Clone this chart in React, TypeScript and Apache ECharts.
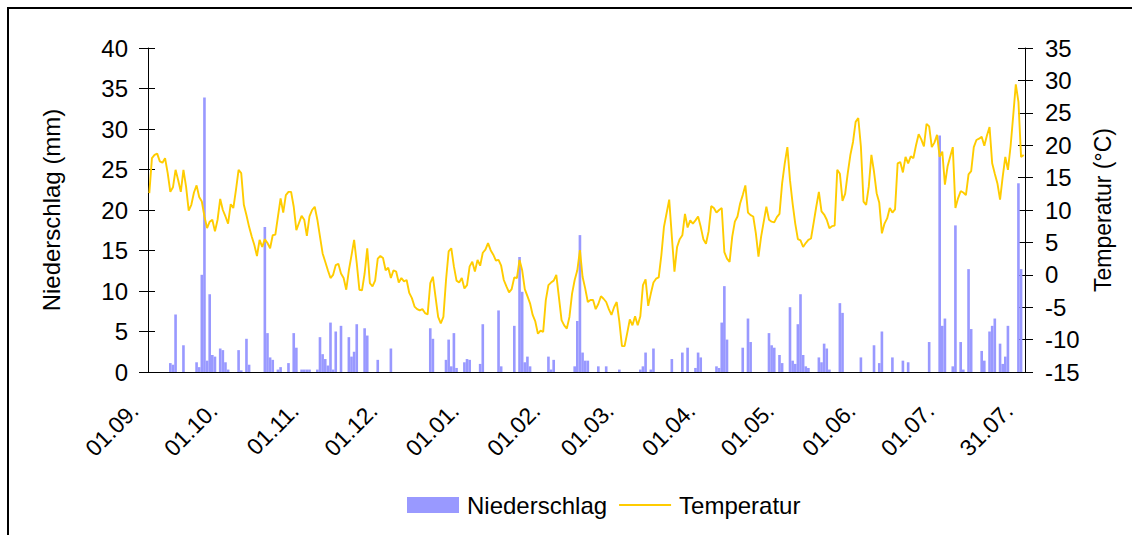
import React, { useEffect, useRef } from "react";
import * as echarts from "echarts";

// Months of the hydrological year shown (Sep .. Jul) and their lengths
const months = ["09", "10", "11", "12", "01", "02", "03", "04", "05", "06", "07"];
const monthDays = [30, 31, 30, 31, 31, 28, 31, 30, 31, 30, 31];

// Tick labels shown on the x axis
const xTickLabels = ["01.09.", "01.10.", "01.11.", "01.12.", "01.01.", "01.02.", "01.03.", "01.04.", "01.05.", "01.06.", "01.07.", "31.07."];

// Daily mean temperature (°C), per month
const tempSep = [12.6, 18.0, 18.5, 18.7, 17.5, 17.3, 18.0, 15.7, 12.8, 13.5, 16.2, 14.6, 12.8, 16.2, 13.6, 9.9, 10.8, 12.7, 13.8, 12.0, 11.3, 9.0, 7.2, 8.2, 8.5, 6.7, 8.5, 11.7, 10.0, 9.0];
const tempOct = [7.9, 10.9, 10.3, 13.1, 16.2, 15.7, 10.8, 9.2, 7.4, 5.9, 4.6, 2.9, 5.4, 4.3, 5.5, 4.9, 4.1, 6.1, 6.2, 9.0, 11.8, 9.6, 12.3, 12.8, 12.8, 10.5, 6.9, 8.0, 9.1, 8.5, 6.0];
const tempNov = [9.0, 10.0, 10.5, 8.5, 5.9, 3.3, 2.0, 0.7, -0.5, 0.0, 1.5, 1.7, 0.2, -0.5, -2.3, 0.7, 3.0, 5.4, 1.8, -2.3, -2.4, 0.2, 4.1, -1.3, -1.8, -0.9, 2.5, 2.9, 2.6, 0.7];
const tempDec = [1.1, -0.5, 0.7, 0.5, -1.2, -0.5, -1.0, -0.8, -2.8, -3.6, -4.9, -5.3, -5.5, -5.3, -5.9, -6.1, -1.3, -0.3, -3.4, -6.5, -7.5, -6.5, -0.8, 3.6, 4.1, 1.3, -0.9, -1.2, -0.5, -2.1, -1.6];
const tempJan = [1.3, 2.0, 0.5, 2.3, 1.4, 3.4, 3.9, 4.9, 3.8, 3.1, 2.2, 2.3, 1.4, -0.8, -1.8, -2.7, -2.2, -0.4, -0.5, 2.3, 0.7, -2.2, -3.3, -4.4, -6.2, -7.2, -9.1, -8.6, -8.8, -3.9, -1.6];
const tempFeb = [-1.2, -0.9, 0.0, -3.5, -7.0, -7.8, -8.3, -6.5, -2.9, -0.8, 0.7, 3.8, -0.3, -2.1, -4.2, -3.9, -3.9, -5.3, -4.5, -3.3, -3.7, -4.2, -5.3, -6.2, -5.0, -4.2, -7.2, -11.0];
const tempMar = [-11.0, -9.0, -6.9, -7.8, -6.4, -7.8, -6.4, -1.6, -0.7, -4.8, -2.9, -1.2, -0.6, -0.4, 3.0, 7.4, 9.5, 11.6, 5.9, 0.5, 4.3, 5.5, 6.1, 9.4, 7.3, 8.4, 7.9, 8.4, 9.0, 7.4, 5.5];
const tempApr = [4.8, 6.7, 10.6, 10.3, 9.6, 10.0, 10.3, 3.5, 2.5, 2.0, 5.9, 8.2, 9.0, 11.0, 12.3, 13.8, 9.6, 9.2, 9.0, 6.4, 2.8, 5.9, 8.2, 10.5, 8.5, 8.2, 8.1, 8.9, 9.4, 14.1];
const tempMay = [17.2, 19.7, 14.6, 11.0, 7.9, 5.5, 5.3, 4.3, 4.9, 5.4, 5.6, 8.0, 10.5, 12.8, 9.8, 9.3, 8.5, 7.2, 7.5, 7.6, 16.2, 15.6, 11.4, 12.5, 15.7, 18.5, 20.5, 23.6, 24.2, 19.8, 11.3];
const tempJun = [10.8, 13.6, 18.5, 15.9, 12.6, 11.1, 6.4, 7.9, 8.7, 10.3, 9.6, 10.1, 17.2, 17.4, 15.8, 18.2, 17.2, 18.3, 18.0, 20.0, 21.7, 20.9, 19.8, 23.3, 22.9, 19.7, 20.4, 21.6, 18.2, 19.0];
const tempJul = [13.9, 16.7, 18.2, 19.7, 10.3, 11.8, 12.9, 12.7, 12.3, 15.5, 16.0, 19.7, 20.8, 21.0, 21.3, 19.9, 21.5, 22.8, 17.2, 15.6, 14.1, 11.6, 15.1, 18.2, 16.2, 19.8, 24.5, 29.4, 26.7, 18.2, 18.5];

// Daily precipitation (mm), per month
const precSep = [0, 0, 0, 0, 0, 0, 0, 0, 1.1, 0.9, 7.1, 0, 0, 3.3, 0, 0, 0, 0, 1.2, 0.6, 12.0, 33.9, 1.4, 9.6, 2.1, 1.9, 0, 2.9, 2.7, 1.2];
const precOct = [0.3, 0, 0, 0, 2.7, 0.2, 0, 4.1, 0.9, 0, 0, 0, 0, 0, 17.9, 4.8, 1.8, 1.5, 0, 0.3, 0.6, 0, 0, 1.1, 0, 4.8, 3.0, 0, 0.3, 0.3, 0.3];
const precNov = [0.3, 0, 0, 0.3, 4.3, 2.2, 1.6, 0.8, 6.1, 0.3, 5.0, 0, 5.7, 0, 0, 4.3, 1.9, 2.5, 5.9, 0, 0, 5.4, 4.5, 0, 0, 0, 1.5, 0, 0, 0];
const precDec = [0, 2.9, 0, 0, 0, 0, 0, 0, 0, 0, 0, 0, 0, 0, 0, 0, 5.4, 4.1, 0, 0, 0, 0, 1.5, 4.0, 0.7, 4.8, 0.5, 0, 0, 1.2, 1.6];
const precJan = [1.5, 0, 0, 0, 1.0, 5.9, 0, 0, 0, 0, 0, 7.6, 0.7, 0, 0, 0, 0, 5.7, 0, 14.2, 9.9, 1.2, 1.9, 0.7, 0, 0, 0, 0, 0, 0, 1.9];
const precFeb = [0.3, 1.5, 0, 0, 0, 0, 0, 0, 0, 0.7, 6.3, 16.9, 2.4, 1.4, 1.4, 0, 0, 0, 0.7, 0, 0, 0.7, 0, 0, 0, 0, 0.3, 0];
const precMar = [0, 0, 0, 0, 0, 0, 0.3, 0.7, 2.4, 0, 0.3, 2.9, 0, 0, 0, 0, 0, 0, 1.6, 0, 0, 0, 2.4, 0, 3.0, 0, 0, 0.5, 2.4, 1.8, 0];
const precApr = [0, 0, 0, 0, 0.7, 0.5, 6.1, 10.6, 4.0, 0, 0, 0, 0, 0, 3.0, 0, 6.6, 3.7, 0, 0, 0, 0, 0, 0, 4.8, 3.3, 3.0, 0, 2.1, 1.1];
const precMay = [0, 0, 8.0, 1.4, 1.0, 5.9, 9.6, 2.1, 0.7, 0.5, 0, 0, 0, 1.8, 1.2, 3.5, 2.9, 0.3, 0, 0, 0, 8.5, 7.3, 0, 0, 0, 0, 0, 0, 1.8, 0];
const precJun = [0, 0, 0, 3.3, 0, 1.1, 5.0, 0, 0, 0, 1.8, 0, 0, 0, 1.4, 0, 1.2, 0, 0, 0, 0, 0, 0, 0, 3.7, 0, 0, 0, 29.2, 5.7];
const precJul = [6.6, 0, 0, 0.7, 18.1, 0, 3.7, 0.3, 0, 12.7, 5.3, 0, 0, 0, 2.6, 1.4, 0, 5.0, 5.7, 6.6, 0, 3.5, 1.0, 1.9, 5.7, 0, 0, 0, 23.3, 12.7, 0];

const temperature = [...tempSep, ...tempOct, ...tempNov, ...tempDec, ...tempJan, ...tempFeb, ...tempMar, ...tempApr, ...tempMay, ...tempJun, ...tempJul];
const precipitation = [...precSep, ...precOct, ...precNov, ...precDec, ...precJan, ...precFeb, ...precMar, ...precApr, ...precMay, ...precJun, ...precJul];

const dates: string[] = [];
months.forEach((m, i) => {
  for (let d = 1; d <= monthDays[i]; d++) {
    dates.push(String(d).padStart(2, "0") + "." + m + ".");
  }
});

const FONT = "'Liberation Sans', Arial, Helvetica, sans-serif";

export default function App() {
  const ref = useRef<HTMLDivElement>(null);

  useEffect(() => {
    if (!ref.current) return;
    const chart = echarts.init(ref.current, undefined, { renderer: "svg" });
    const shown = new Set(xTickLabels);
    const axisText = { fontSize: 24, color: "#000", fontFamily: FONT };
    const xText = { fontSize: 23, color: "#000", fontFamily: FONT };
    const option: any = {
      animation: false,
      textStyle: { fontFamily: FONT },
      grid: { left: 148, right: 107, top: 48, bottom: 163, containLabel: false },
      legend: {
        left: 407,
        top: 493,
        padding: 0,
        itemWidth: 52,
        itemHeight: 16,
        itemGap: 12,
        textStyle: { ...axisText, padding: [0, 0, 0, 3] },
        data: [
          { name: "Niederschlag", icon: "rect" },
          { name: "Temperatur", icon: "path://M0,0H52V2H0Z" },
        ],
      },
      xAxis: {
        type: "category",
        data: dates,
        boundaryGap: true,
        axisLine: { show: true, lineStyle: { color: "#000", width: 1 } },
        axisTick: { show: false },
        splitLine: { show: false },
        axisLabel: {
          ...xText,
          interval: (_i: number, v: string) => shown.has(v),
          rotate: 45,
          margin: 20,
          padding: [0, 21, 0, 0],
        },
      },
      yAxis: [
        {
          type: "value",
          min: 0,
          max: 40,
          interval: 5,
          position: "left",
          name: "Niederschlag (mm)",
          nameLocation: "middle",
          nameRotate: 90,
          nameGap: 85,
          nameTextStyle: axisText,
          axisLine: { show: true, lineStyle: { color: "#000", width: 1 } },
          axisTick: { show: true, length: 9, lineStyle: { color: "#000" } },
          axisLabel: { ...axisText, margin: 20 },
          splitLine: { show: false },
        },
        {
          type: "value",
          min: -15,
          max: 35,
          interval: 5,
          position: "right",
          name: "Temperatur (°C)",
          nameLocation: "middle",
          nameRotate: 90,
          nameGap: 66,
          nameTextStyle: { ...axisText, fontSize: 23 },
          axisLine: { show: true, lineStyle: { color: "#000", width: 1 } },
          axisTick: { show: true, length: 8, lineStyle: { color: "#000" } },
          axisLabel: { ...axisText, margin: 20 },
          splitLine: { show: false },
        },
        {
          type: "value",
          min: 0,
          max: 40,
          interval: 5,
          position: "left",
          axisLine: { show: false },
          axisTick: { show: true, inside: true, length: 7, lineStyle: { color: "#000" } },
          axisLabel: { show: false },
          splitLine: { show: false },
        },
        {
          type: "value",
          min: -15,
          max: 35,
          interval: 5,
          position: "right",
          axisLine: { show: false },
          axisTick: { show: true, inside: true, length: 7, lineStyle: { color: "#000" } },
          axisLabel: { show: false },
          splitLine: { show: false },
        },
      ],
      series: [
        {
          type: "bar",
          name: "Niederschlag",
          data: precipitation,
          yAxisIndex: 0,
          barCategoryGap: "0%",
          itemStyle: { color: "#9999FF" },
        },
        {
          type: "line",
          name: "Temperatur",
          data: temperature,
          yAxisIndex: 1,
          symbol: "none",
          lineStyle: { color: "#FFCC00", width: 1.9 },
          itemStyle: { color: "#FFCC00" },
        },
      ],
    };
    chart.setOption(option);
    return () => chart.dispose();
  }, []);

  return (
    <div style={{ position: "fixed", left: 0, top: 0, width: 1132, height: 535, overflow: "hidden", background: "#fff" }}>
      <div
        style={{
          position: "absolute",
          left: 7,
          top: 7,
          width: 1200,
          height: 600,
          borderTop: "2px solid #000",
          borderLeft: "2px solid #000",
        }}
      />
      <div ref={ref} style={{ position: "absolute", left: 0, top: 0, width: 1132, height: 535 }} />
    </div>
  );
}
